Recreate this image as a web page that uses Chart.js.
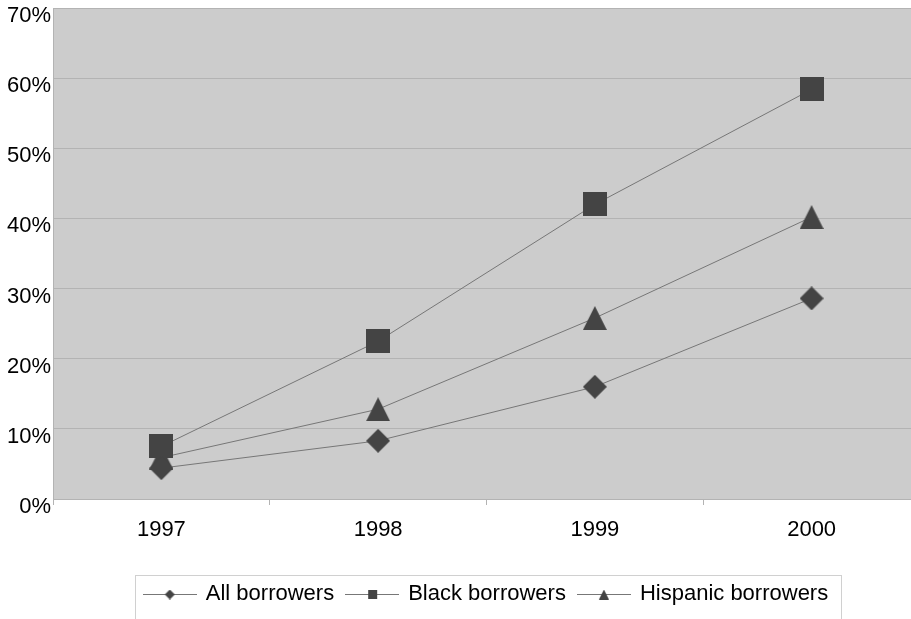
<!DOCTYPE html>
<html>
<head>
<meta charset="utf-8">
<script src="https://cdn.jsdelivr.net/npm/chart.js@4/dist/chart.umd.min.js"></script>
<style>
  html, body { margin: 0; padding: 0; background: #ffffff; overflow: hidden; width: 911px; height: 619px; }
  #wrap { position: relative; width: 920px; height: 640px; }
</style>
</head>
<body>
<div id="wrap"><canvas id="c" width="920" height="640"></canvas></div>
<script>
// Share of loans by borrower group, 1997-2000
const years = ['1997', '1998', '1999', '2000'];
const allBorrowers = [4.4, 8.3, 16.0, 28.6];
const blackBorrowers = [7.5, 22.5, 42.0, 58.4];
const hispanicBorrowers = [5.9, 12.8, 25.8, 40.2];
const seriesNames = ['All borrowers', 'Black borrowers', 'Hispanic borrowers'];
const yTickValues = [0, 10, 20, 30, 40, 50, 60, 70];

const MARK = '#444444';
const LINE = '#777777';
const AXIS_FONT = '"Liberation Sans Narrow", "Arial Narrow", "Liberation Sans", Arial, sans-serif';
const LEGEND_FONT = '"Liberation Sans", Arial, sans-serif';

// Draws a filled marker shape onto a small canvas
function markerCanvas(shape, size) {
  const cv = document.createElement('canvas');
  cv.width = size; cv.height = size;
  const g = cv.getContext('2d');
  const c = size / 2, r = size / 2;
  g.fillStyle = MARK;
  g.beginPath();
  if (shape === 'diamond') {
    g.moveTo(c, c - r); g.lineTo(c + r, c); g.lineTo(c, c + r); g.lineTo(c - r, c);
  } else if (shape === 'square') {
    g.rect(0, 0, size, size);
  } else {
    g.moveTo(c, 0); g.lineTo(size, size); g.lineTo(0, size);
  }
  g.closePath();
  g.fill();
  return cv;
}

const shapes = ['diamond', 'square', 'triangle'];
const pointImgs = shapes.map(s => markerCanvas(s, 24));

// Legend symbol: short line with a small marker in the middle
const legendImgs = shapes.map(s => {
  const c = document.createElement('canvas');
  c.width = 54; c.height = 12;
  const g = c.getContext('2d');
  g.strokeStyle = LINE; g.lineWidth = 1;
  g.beginPath(); g.moveTo(0, 6.5); g.lineTo(54, 6.5); g.stroke();
  const m = s === 'square' ? 9 : 10;
  g.drawImage(markerCanvas(s, m), 27 - m / 2, 6.5 - m / 2);
  return c;
});

const plotBackground = {
  id: 'plotBackground',
  beforeDraw(chart) {
    const {ctx, chartArea: a} = chart;
    ctx.save();
    ctx.fillStyle = '#cccccc';
    ctx.fillRect(a.left, a.top, a.right - a.left, a.bottom - a.top);
    ctx.restore();
  }
};

const legendFrame = {
  id: 'legendFrame',
  afterDraw(chart) {
    const lg = chart.legend;
    if (!lg || !lg.legendHitBoxes || !lg.legendHitBoxes.length) return;
    const hb = lg.legendHitBoxes;
    const first = hb[0], last = hb[hb.length - 1];
    const rowCenter = lg.top + lg.options.labels.padding + 11;
    const left = first.left - 10;
    const right = last.left + last.width + 13;
    const ctx = chart.ctx;
    ctx.save();
    ctx.strokeStyle = '#d0d0d0';
    ctx.lineWidth = 1;
    ctx.strokeRect(Math.round(left) + 0.5, Math.round(rowCenter - 19) + 0.5, Math.round(right - left), 60);
    ctx.restore();
  }
};

const seriesValues = [allBorrowers, blackBorrowers, hispanicBorrowers];

new Chart(document.getElementById('c'), {
  type: 'line',
  data: {
    labels: years,
    datasets: seriesNames.map((name, i) => ({
      label: name,
      data: seriesValues[i],
      borderColor: LINE,
      borderWidth: 1,
      backgroundColor: MARK,
      pointStyle: pointImgs[i],
      pointRadius: 12,
      pointHoverRadius: 12,
      tension: 0,
      fill: false
    }))
  },
  options: {
    responsive: false,
    animation: false,
    events: [],
    layout: { autoPadding: false, padding: { top: 8, left: 0, right: 0, bottom: 25 } },
    plugins: {
      title: { display: false },
      tooltip: { enabled: false },
      legend: {
        position: 'bottom',
        fullSize: false,
        labels: {
          usePointStyle: true,
          pointStyleWidth: 50,
          padding: 13,
          color: '#000000',
          font: { family: LEGEND_FONT, size: 22 },
          generateLabels(chart) {
            return chart.data.datasets.map((ds, i) => ({
              text: ds.label,
              pointStyle: legendImgs[i],
              fillStyle: MARK,
              strokeStyle: LINE,
              lineWidth: 0,
              hidden: false,
              datasetIndex: i
            }));
          }
        }
      }
    },
    scales: {
      x: {
        offset: true,
        grid: { offset: true, drawOnChartArea: false, drawTicks: true, tickLength: 6, color: '#b3b3b3' },
        border: { display: false },
        ticks: { color: '#000000', font: { family: AXIS_FONT, size: 22 }, padding: 12, maxRotation: 0, autoSkip: false },
        afterFit(s) { s.height = 71; s.paddingLeft = 0; s.paddingRight = 0; }
      },
      y: {
        min: 0,
        max: 70,
        afterBuildTicks(s) { s.ticks = yTickValues.map(v => ({ value: v })); },
        ticks: {
          color: '#000000',
          font: { family: AXIS_FONT, size: 22 },
          padding: 2,
          labelOffset: 8,
          callback: v => v + '%'
        },
        grid: { color: '#b3b3b3', drawTicks: false, lineWidth: 1 },
        border: { display: true, color: '#b3b3b3' },
        afterFit(s) { s.width = 53; s.paddingTop = 0; s.paddingBottom = 0; }
      }
    }
  },
  plugins: [plotBackground, legendFrame]
});
</script>
</body>
</html>
